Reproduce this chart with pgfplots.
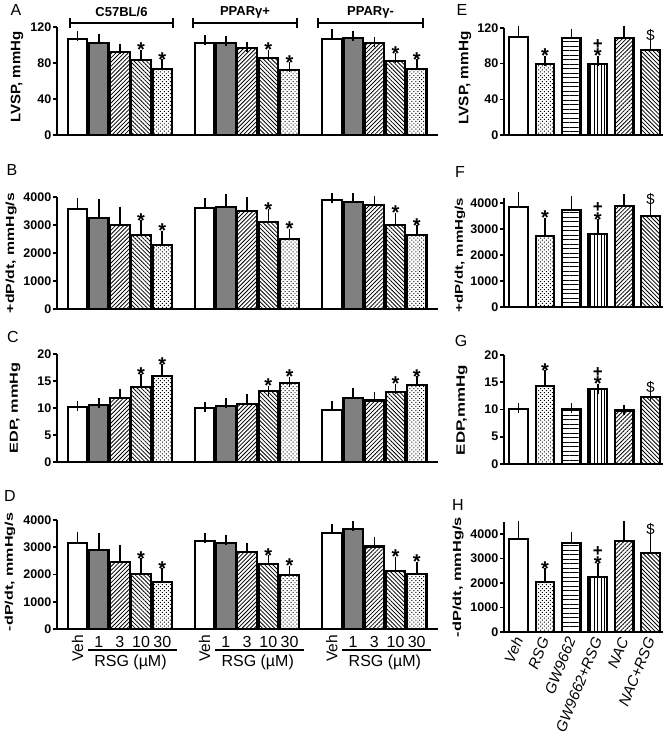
\documentclass[border=0pt]{standalone}
\usepackage{pgfplots}
\pgfplotsset{compat=1.18}
\usepackage{fontspec}
\setmainfont{Liberation Sans}
\usetikzlibrary{patterns.meta}
\newcommand{\fs}[1]{\fontsize{#1}{#1}\selectfont}
\definecolor{bargray}{rgb}{0.5,0.5,0.5}
\pgfplotsset{
 base/.style={scale only axis, axis lines=left, axis line style={line width=2pt,-}, enlargelimits=false, ymin=0, xtick=\empty, ytick pos=left, tick align=outside, major tick length=4pt, tick style={line width=1.6pt,black}, yticklabel style={font=\bfseries\fs{12.5}, inner sep=1.5pt}, /pgf/number format/assume math mode=true, /pgf/number format/1000 sep={}, clip=false},
 Lax/.style={base, width=381pt, xmin=-0.967, xmax=17.0},
 Rax/.style={base, width=159pt, xmin=-0.55, xmax=5.47},
 bb/.style={ybar, bar shift=0pt, draw=black, line width=2.2pt, error bars/y dir=plus, error bars/y explicit, error bars/error bar style={line width=1.7pt,black}, error bars/error mark options={line width=1.7pt,black, mark size=5pt}},
 Lb/.style={bb, bar width=0.92},
 Rb/.style={bb, bar width=0.7},
 pveh/.style={fill=white},
 pgray/.style={fill=bargray},
 pne/.style={pattern={Lines[angle=45,distance=2.9pt,line width=0.8pt]}},
 pnw/.style={pattern={Lines[angle=-45,distance=2.9pt,line width=0.8pt]}},
 pdot/.style={pattern={Dots[distance=2.8pt,radius=0.7pt,angle=45]}},
 phor/.style={pattern={Lines[angle=0,distance=4.5pt,line width=0.9pt]}},
 pver/.style={pattern={Lines[angle=90,distance=3.6pt,line width=0.9pt]}},
}
\newcommand{\st}[2]{\node[font=\bfseries\fs{20}, anchor=base, yshift=-2pt, inner sep=0] at (axis cs:#1,#2) {*};}
\newcommand{\dg}[2]{\node[font=\bfseries\fs{17}, anchor=base, yshift=11.5pt, inner sep=0] at (axis cs:#1,#2) {+};}
\newcommand{\dol}[2]{\node[font=\fs{15}, anchor=south, yshift=3pt, inner sep=0] at (axis cs:#1,#2) {\$};}
\begin{document}
\begin{tikzpicture}[x=1pt,y=1pt]
\path[use as bounding box] (0,0) rectangle (666,-739);
% ---------- A
\begin{axis}[Lax, at={(57pt,-135pt)}, anchor=south west, height=108pt, ymax=120, ytick={0,40,80,120}]
\addplot[Lb,pveh] coordinates {(0,106.7) +- (0,3.3) (6,102.6) +- (0,2.9) (12,106.7) +- (0,5.3)};
\addplot[Lb,pgray] coordinates {(1,102.6) +- (0,4.4) (7,101.8) +- (0,3) (13,108) +- (0,2)};
\addplot[Lb,pne] coordinates {(2,92.6) +- (0,2.9) (8,96.3) +- (0,1.7) (14,101.8) +- (0,1.2)};
\addplot[Lb,pnw] coordinates {(3,83.3) +- (0,5.6) (9,85.2) +- (0,3.7) (15,82.2) +- (0,3)};
\addplot[Lb,pdot] coordinates {(4,73.3) +- (0,5.2) (10,72.2) +- (0,3) (16,73.3) +- (0,5.2)};
\st{3}{88.9}\st{4}{78.5}\st{9}{88.9}\st{10}{75.2}\st{15}{85.2}\st{16}{78.5}
\end{axis}
% ---------- B
\begin{axis}[Lax, at={(57pt,-309pt)}, anchor=south west, height=112pt, ymax=4000, ytick={0,1000,2000,3000,4000}]
\addplot[Lb,pveh] coordinates {(0,3560) +- (0,215) (6,3595) +- (0,180) (12,3890) +- (0,65)};
\addplot[Lb,pgray] coordinates {(1,3240) +- (0,500) (7,3655) +- (0,260) (13,3830) +- (0,125)};
\addplot[Lb,pne] coordinates {(2,3000) +- (0,475) (8,3512) +- (0,300) (14,3715) +- (0,155)};
\addplot[Lb,pnw] coordinates {(3,2630) +- (0,370) (9,3095) +- (0,295) (15,3000) +- (0,260)};
\addplot[Lb,pdot] coordinates {(4,2300) +- (0,320) (10,2500) +- (0,180) (16,2630) +- (0,190)};
\st{3}{3000}\st{4}{2620}\st{9}{3390}\st{10}{2680}\st{15}{3260}\st{16}{2820}
\end{axis}
% ---------- C
\begin{axis}[Lax, at={(57pt,-462pt)}, anchor=south west, height=108pt, ymax=20, ytick={0,5,10,15,20}]
\addplot[Lb,pveh] coordinates {(0,10.2) +- (0,0.1) (6,10.0) +- (0,0.2) (12,9.7) +- (0,0.6)};
\addplot[Lb,pgray] coordinates {(1,10.6) +- (0,0.3) (7,10.3) +- (0,0.6) (13,11.9) +- (0,0.9)};
\addplot[Lb,pne] coordinates {(2,11.8) +- (0,0.8) (8,10.7) +- (0,0.9) (14,11.4) +- (0,0.7)};
\addplot[Lb,pnw] coordinates {(3,13.9) +- (0,1.4) (9,13.1) +- (0,0.1) (15,12.9) +- (0,0.7)};
\addplot[Lb,pdot] coordinates {(4,15.9) +- (0,1.3) (10,14.6) +- (0,0.2) (16,14.2) +- (0,0.8)};
\st{3}{15.3}\st{4}{17.2}\st{9}{13.2}\st{10}{15.0}\st{15}{13.6}\st{16}{15.0}
\end{axis}
% ---------- D
\begin{axis}[Lax, at={(57pt,-629pt)}, anchor=south west, height=109pt, ymax=4000, ytick={0,1000,2000,3000,4000}]
\addplot[Lb,pveh] coordinates {(0,3160) +- (0,230) (6,3230) +- (0,120) (12,3510) +- (0,170)};
\addplot[Lb,pgray] coordinates {(1,2900) +- (0,450) (7,3145) +- (0,110) (13,3670) +- (0,110)};
\addplot[Lb,pne] coordinates {(2,2460) +- (0,440) (8,2815) +- (0,145) (14,3025) +- (0,185)};
\addplot[Lb,pnw] coordinates {(3,2030) +- (0,380) (9,2375) +- (0,155) (15,2140) +- (0,330)};
\addplot[Lb,pdot] coordinates {(4,1735) +- (0,305) (10,1980) +- (0,160) (16,2020) +- (0,265)};
\st{3}{2410}\st{4}{2040}\st{9}{2530}\st{10}{2140}\st{15}{2470}\st{16}{2285}
\end{axis}
% ---------- E
\begin{axis}[Rax, at={(504pt,-135pt)}, anchor=south west, height=107pt, ymax=120, ytick={0,40,80,120}]
\addplot[Rb,pveh] coordinates {(0,109.5) +- (0,7.5)};
\addplot[Rb,pdot] coordinates {(1,79.6) +- (0,3.4)};
\addplot[Rb,phor] coordinates {(2,108.4) +- (0,4.6)};
\addplot[Rb,pver] coordinates {(3,79.6) +- (0,3.4)};
\addplot[Rb,pne] coordinates {(4,108.4) +- (0,8.6)};
\addplot[Rb,pnw] coordinates {(5,95.3) +- (0,6.4)};
\st{1}{83}\st{3}{83}\dg{3}{83}\dol{5}{101.7}
\end{axis}
% ---------- F
\begin{axis}[Rax, at={(504pt,-307pt)}, anchor=south west, height=109.2pt, ymax=4200, ytick={0,1000,2000,3000,4000}]
\addplot[Rb,pveh] coordinates {(0,3835) +- (0,405)};
\addplot[Rb,pdot] coordinates {(1,2730) +- (0,510)};
\addplot[Rb,phor] coordinates {(2,3730) +- (0,350)};
\addplot[Rb,pver] coordinates {(3,2810) +- (0,370)};
\addplot[Rb,pne] coordinates {(4,3885) +- (0,255)};
\addplot[Rb,pnw] coordinates {(5,3510) +- (0,285)};
\st{1}{3240}\st{3}{3180}\dg{3}{3180}\dol{5}{3795}
\end{axis}
% ---------- G
\begin{axis}[Rax, at={(504pt,-464pt)}, anchor=south west, height=109pt, ymax=20, ytick={0,5,10,15,20}]
\addplot[Rb,pveh] coordinates {(0,10.1) +- (0,0.1)};
\addplot[Rb,pdot] coordinates {(1,14.3) +- (0,2.0)};
\addplot[Rb,phor] coordinates {(2,10.0) +- (0,0.2)};
\addplot[Rb,pver] coordinates {(3,13.7) +- (0,0.1)};
\addplot[Rb,pne] coordinates {(4,9.8) +- (0,0.1)};
\addplot[Rb,pnw] coordinates {(5,12.3) +- (0,0.1)};
\st{1}{16.3}\st{3}{13.8}\dg{3}{13.8}\dol{5}{12.4}
\end{axis}
% ---------- H
\begin{axis}[Rax, at={(504pt,-632pt)}, anchor=south west, height=110.25pt, ymax=4500, ytick={0,1000,2000,3000,4000}]
\addplot[Rb,pveh] coordinates {(0,3780) +- (0,550)};
\addplot[Rb,pdot] coordinates {(1,2055) +- (0,340)};
\addplot[Rb,phor] coordinates {(2,3620) +- (0,270)};
\addplot[Rb,pver] coordinates {(3,2260) +- (0,340)};
\addplot[Rb,pne] coordinates {(4,3715) +- (0,615)};
\addplot[Rb,pnw] coordinates {(5,3210) +- (0,610)};
\st{1}{2395}\st{3}{2600}\dg{3}{2600}\dol{5}{3820}
\end{axis}
% ---------- panel letters
\node[font=\fs{16}] at (16,-10) {A};
\node[font=\fs{16}] at (12,-170) {B};
\node[font=\fs{16}] at (13,-337) {C};
\node[font=\fs{16}] at (10,-496) {D};
\node[font=\fs{16}] at (462,-10) {E};
\node[font=\fs{16}] at (460,-172) {F};
\node[font=\fs{16}] at (461,-341) {G};
\node[font=\fs{16}] at (458,-505) {H};
% ---------- y labels
\node[rotate=90, inner sep=0] at (17,-77) {\resizebox*{91pt}{12.5pt}{\bfseries LVSP, mmHg}};
\node[rotate=90, inner sep=0] at (11,-253) {\resizebox*{120pt}{11pt}{\bfseries +dP/dt, mmHg/s}};
\node[rotate=90, inner sep=0] at (15,-408) {\resizebox*{91pt}{10.5pt}{\bfseries EDP, mmHg}};
\node[rotate=90, inner sep=0] at (10,-572) {\resizebox*{118pt}{10.5pt}{\bfseries -dP/dt, mmHg/s}};
\node[rotate=90, inner sep=0] at (465,-78) {\resizebox*{93pt}{12.5pt}{\bfseries LVSP, mmHg}};
\node[rotate=90, inner sep=0] at (460,-255) {\resizebox*{114pt}{10.5pt}{\bfseries +dP/dt, mmHg/s}};
\node[rotate=90, inner sep=0] at (462,-410) {\resizebox*{90pt}{11pt}{\bfseries EDP,mmHg}};
\node[rotate=90, inner sep=0] at (458,-577) {\resizebox*{120pt}{11pt}{\bfseries -dP/dt, mmHg/s}};
% ---------- group headers
\foreach \a/\b in {70/173, 193/297, 318/423}{
  \draw[line width=1.2pt] (\a,-23) -- (\b,-23) (\a,-18) -- (\a,-28) (\b,-18) -- (\b,-28);
}
\node[font=\bfseries\fs{13}] at (121.5,-12) {C57BL/6};
\node[font=\bfseries\fs{13}] at (245,-12) {PPARγ+};
\node[font=\bfseries\fs{13}] at (370.5,-12) {PPARγ-};
% ---------- bottom labels left
\foreach \o in {0,127.2,254.4}{
\begin{scope}[xshift=\o pt]
\node[rotate=90, anchor=east, font=\fs{15.5}, inner sep=0] at (77.5,-635) {Veh};
\node[font=\fs{16}, anchor=base, inner sep=0] at (98.7,-647.5) {1};
\node[font=\fs{16}, anchor=base, inner sep=0] at (119.9,-647.5) {3};
\node[font=\fs{16}, anchor=base, inner sep=0] at (141.1,-647.5) {10};
\node[font=\fs{16}, anchor=base, inner sep=0] at (162.3,-647.5) {30};
\draw[line width=1.2pt] (88,-650) -- (177,-650);
\node[font=\fs{16}, anchor=base, inner sep=0] at (130.5,-666) {RSG (µM)};
\end{scope}}
% ---------- bottom labels right
\foreach \k/\t in {0/Veh,1/RSG,2/GW9662,3/GW9662+RSG,4/NAC,5/NAC+RSG}{
\node[rotate=68, anchor=east, font=\itshape\fs{15}, inner sep=0] at ({518.5+26.4*\k},-638) {\t};
}
\end{tikzpicture}
\end{document}
